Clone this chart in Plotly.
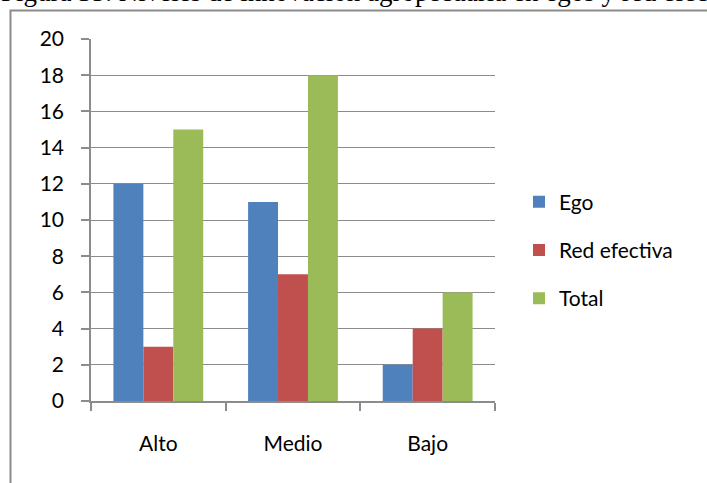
import plotly.graph_objects as go

categories = ["Alto", "Medio", "Bajo"]
ego = [12, 11, 2]
red_efectiva = [3, 7, 4]
total = [15, 18, 6]
series_names = ["Ego", "Red efectiva", "Total"]
series_colors = ["#4F81BD", "#C0504D", "#9BBB59"]
y_ticks = list(range(0, 21, 2))
title_text = "Figura 35. Niveles de innovación agropecuaria en egos y red efectiva"

W, H = 707, 483
ML, MR, MT, MB = 91, 212, 39, 82
PW, PH = W - ML - MR, H - MT - MB

def px_x(p):
    return (p - ML) / PW

def px_y(p):
    return 1 - (p - MT) / PH

FONT = "Lato, Carlito, Calibri, sans-serif"
GRID = "#8C8C8C"

fig = go.Figure()
for name, vals, col in zip(series_names, [ego, red_efectiva, total], series_colors):
    fig.add_trace(go.Bar(x=categories, y=vals, name=name, marker_color=col,
                         marker_line_width=0, legendgroup=name))

fig.update_layout(
    width=W, height=H,
    margin=dict(l=ML, r=MR, t=MT, b=MB, pad=0),
    paper_bgcolor="white", plot_bgcolor="white",
    barmode="group", bargap=0.333, bargroupgap=0,
    font=dict(family=FONT, size=21, color="black"),
    showlegend=True,
    legend=dict(x=px_x(519), xanchor="left", y=px_y(250), yanchor="middle",
                tracegroupgap=18, font=dict(size=21, color="black"),
                bgcolor="rgba(0,0,0,0)"),
    xaxis=dict(showline=True, linecolor=GRID, linewidth=1.5, ticks="outside",
               tickson="boundaries", ticklen=8, tickcolor=GRID, tickwidth=1.5,
               showgrid=False, ticklabelstandoff=23),
    yaxis=dict(range=[0, 20], tickvals=y_ticks, showline=True, linecolor=GRID,
               linewidth=1.5, ticks="outside", ticklen=8, tickcolor=GRID,
               tickwidth=1.5, showgrid=True, gridcolor=GRID, gridwidth=1.3,
               zeroline=False, ticklabelstandoff=13),
)

# outer chart frame
fig.add_shape(type="rect", xref="paper", yref="paper",
              x0=px_x(10.5), x1=px_x(730), y0=px_y(500), y1=px_y(10.5),
              line=dict(color=GRID, width=2), fillcolor="rgba(0,0,0,0)", layer="below")

# caption partially clipped at the top
fig.add_annotation(text=title_text, xref="paper", yref="paper",
                   x=px_x(-1), xanchor="left", y=px_y(9.5), yanchor="bottom",
                   showarrow=False, font=dict(family="Liberation Serif", size=27, color="black"))

fig.write_html("out.html", post_script="document.body.style.margin='0';",
               config={"displayModeBar": False})
